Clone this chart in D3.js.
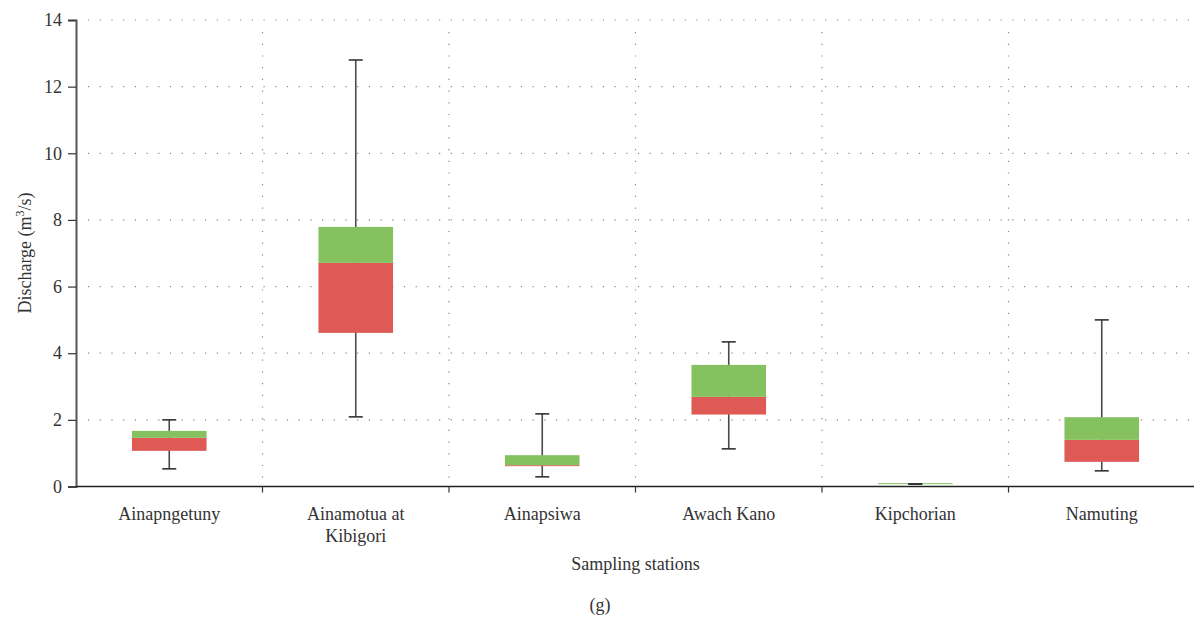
<!DOCTYPE html>
<html>
<head>
<meta charset="utf-8">
<script src="https://cdn.jsdelivr.net/npm/d3@7"></script>
<style>
    body { margin: 0; background: #fff; }
    text { font-family: "Liberation Serif", "DejaVu Serif", serif; fill: #333; }
</style>
</head>
<body>
<svg id="chart" width="1194" height="620"></svg>
<script>
// stations and box values (m3/s)
const stations = ["Ainapngetuny", "Ainamotua at Kibigori", "Ainapsiwa", "Awach Kano", "Kipchorian", "Namuting"];
const whiskerLow = [0.53, 2.09, 0.29, 1.13, 0.07, 0.47];
const q1 = [1.07, 4.61, 0.61, 2.16, 0.09, 0.74];
const median = [1.46, 6.71, 0.64, 2.69, 0.09, 1.40];
const q3 = [1.67, 7.79, 0.94, 3.65, 0.10, 2.08];
const whiskerHigh = [2.0, 12.8, 2.18, 4.34, 0.08, 5.0];
const yTicks = [0, 2, 4, 6, 8, 10, 12, 14];

const largeur = 1194,
    plotLeft = 76,
    plotRight = 1195,
    plotTop = 20,
    plotBottom = 486.5,
    fontSize = "18px";

const svgSpace = d3.select("#chart");

const x = d3.scaleBand().domain(stations).range([plotLeft, plotRight]);
const y = d3.scaleLinear().domain([0, 14]).range([plotBottom, plotTop]);

const data = stations.map((s, i) => ({
    name: s, lo: whiskerLow[i], q1: q1[i], med: median[i], q3: q3[i], hi: whiskerHigh[i]
}));

// dotted grid
const grid = svgSpace.append("g").attr("stroke", "#888").attr("stroke-width", 1.2)
    .attr("stroke-dasharray", "1.2,10.5");
grid.selectAll(".hg").data(yTicks.filter(d => d > 0)).enter().append("line")
    .attr("x1", plotLeft + 12).attr("x2", plotRight)
    .attr("y1", d => y(d)).attr("y2", d => y(d));
grid.selectAll(".vg").data(stations.slice(1)).enter().append("line")
    .attr("x1", d => x(d)).attr("x2", d => x(d))
    .attr("y1", plotTop + 12).attr("y2", plotBottom - 2);

// boxes
const boxW = x.bandwidth() * 0.4;
const boxes = svgSpace.append("g").selectAll("g").data(data).enter().append("g")
    .attr("transform", d => "translate(" + (x(d.name) + x.bandwidth() / 2) + ",0)");

boxes.append("line")
    .attr("x1", 0).attr("x2", 0)
    .attr("y1", d => y(d.hi)).attr("y2", d => y(d.lo))
    .attr("stroke", "#4a4a4a").attr("stroke-width", 1.6);

boxes.append("rect")
    .attr("x", -boxW / 2).attr("width", boxW)
    .attr("y", d => y(d.med)).attr("height", d => y(d.q1) - y(d.med))
    .attr("fill", "#e05a55");

boxes.append("rect")
    .attr("x", -boxW / 2).attr("width", boxW)
    .attr("y", d => y(d.q3)).attr("height", d => Math.max(y(d.med) - y(d.q3), 1))
    .attr("fill", "#86c160");

boxes.selectAll(".cap").data(d => [d.hi, d.lo]).enter().append("line")
    .attr("x1", -7).attr("x2", 7)
    .attr("y1", v => y(v)).attr("y2", v => y(v))
    .attr("stroke", "#333").attr("stroke-width", 1.6);

// y axis
const yAxis = svgSpace.append("g")
    .attr("transform", "translate(" + plotLeft + ",0)")
    .call(d3.axisLeft(y).tickValues(yTicks).tickSize(8).tickPadding(6));
yAxis.select(".domain").attr("stroke", "#555").attr("stroke-width", 2);
yAxis.selectAll(".tick line").attr("stroke", "#333").attr("stroke-width", 1.2);
yAxis.selectAll(".tick text").style("font-size", fontSize).style("font-family", "Liberation Serif").attr("fill", "#333");

// x axis
const xAxis = svgSpace.append("g")
    .attr("transform", "translate(0," + plotBottom + ")");
xAxis.append("line").attr("x1", plotLeft).attr("x2", largeur)
    .attr("stroke", "#222").attr("stroke-width", 1.6);
xAxis.selectAll(".xt").data(stations.slice(1)).enter().append("line")
    .attr("x1", d => x(d)).attr("x2", d => x(d))
    .attr("y1", 0).attr("y2", 6)
    .attr("stroke", "#333").attr("stroke-width", 1.2);

const xLabels = xAxis.selectAll(".xl").data(stations).enter().append("text")
    .attr("text-anchor", "middle")
    .attr("x", d => x(d) + x.bandwidth() / 2)
    .attr("y", 33)
    .style("font-size", fontSize);
xLabels.each(function (d) {
    const parts = d === "Ainamotua at Kibigori" ? ["Ainamotua at", "Kibigori"] : [d];
    parts.forEach((p, i) => {
        d3.select(this).append("tspan")
            .attr("x", x(d) + x.bandwidth() / 2)
            .attr("dy", i === 0 ? 0 : 22)
            .text(p);
    });
});

// titles
svgSpace.append("text")
    .attr("x", (plotLeft + plotRight) / 2).attr("y", 570)
    .attr("text-anchor", "middle").style("font-size", fontSize)
    .text("Sampling stations");

svgSpace.append("text")
    .attr("x", 600).attr("y", 611)
    .attr("text-anchor", "middle").style("font-size", fontSize)
    .text("(g)");

const yTitle = svgSpace.append("text")
    .attr("transform", "translate(31,253) rotate(-90)")
    .attr("text-anchor", "middle").style("font-size", fontSize);
yTitle.append("tspan").text("Discharge (m");
yTitle.append("tspan").attr("dy", -7).style("font-size", "12px").text("3");
yTitle.append("tspan").attr("dy", 7).text("/s)");
</script>
</body>
</html>
